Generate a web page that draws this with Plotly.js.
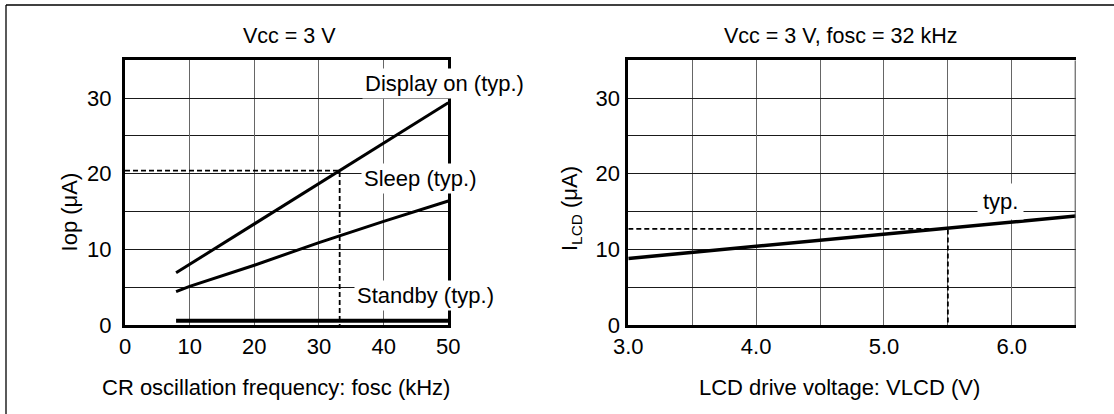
<!DOCTYPE html>
<html>
<head>
<meta charset="utf-8">
<script src="https://cdn.plot.ly/plotly-3.0.1.min.js"></script>
<style>html,body{margin:0;padding:0;background:#fff;}#chart{width:1114px;height:414px;}</style>
</head>
<body>
<div id="chart"></div>
<script>
// ---- Data ----
// Left chart: Iop vs CR oscillation frequency (Vcc = 3 V)
const displayOnX = [7.9, 20, 33.2, 50];
const displayOnY = [6.9, 13.4, 20.4, 29.4];
const sleepX = [7.9, 10, 20, 30, 40, 50];
const sleepY = [4.4, 5.1, 7.9, 10.9, 13.7, 16.4];
const standbyX = [7.9, 50];
const standbyY = [0.55, 0.55];
const guideLeftX = [0, 33.2, 33.2];
const guideLeftY = [20.4, 20.4, 0];

// Right chart: ILCD vs LCD drive voltage (Vcc = 3 V, fosc = 32 kHz)
const typX = [3.0, 4.0, 5.0, 5.5, 6.0, 6.5];
const typY = [8.8, 10.4, 12.0, 12.7, 13.6, 14.4];
const guideRightX = [3.0, 5.5, 5.5];
const guideRightY = [12.7, 12.7, 0];

// Ticks and grid positions
const leftXTicks = [0, 10, 20, 30, 40, 50];
const leftXTickText = ['0', '10', '20', '30', '40', '50'];
const yTickVals = [0, 10, 20, 30];
const yTickText = ['0', '10', '20', '30'];
const yMinorGrid = [5, 15, 25];
const rightXTicks = [3.0, 4.0, 5.0, 6.0];
const rightXTickText = ['3.0', '4.0', '5.0', '6.0'];
const rightXMinorGrid = [3.5, 4.5, 5.5];

// Texts
const leftTitle = 'Vcc = 3 V';
const rightTitle = 'Vcc = 3 V, fosc = 32 kHz';
const leftXTitle = 'CR oscillation frequency: fosc (kHz)';
const rightXTitle = 'LCD drive voltage: VLCD (V)';
const leftYTitle = 'Iop (μA)';
const rightYTitle = 'I<sub>LCD</sub> (μA)';
const labelDisplay = 'Display on (typ.)';
const labelSleep = 'Sleep (typ.)';
const labelStandby = 'Standby (typ.)';
const labelTyp = 'typ.';

// ---- Layout helpers ----
const W = 1114, H = 414;
const px = v => v / W;
const py = v => 1 - v / H;
const FONT = 'Liberation Sans, Arial, Helvetica, sans-serif';

const traces = [
  {x: displayOnX, y: displayOnY, xaxis: 'x', yaxis: 'y', mode: 'lines', line: {color: '#000', width: 3}},
  {x: sleepX, y: sleepY, xaxis: 'x', yaxis: 'y', mode: 'lines', line: {color: '#000', width: 3}},
  {x: standbyX, y: standbyY, xaxis: 'x', yaxis: 'y', mode: 'lines', line: {color: '#000', width: 4}},
  {x: guideLeftX, y: guideLeftY, xaxis: 'x', yaxis: 'y', mode: 'lines', line: {color: '#000', width: 1.8, dash: '5px,3px'}},
  {x: typX, y: typY, xaxis: 'x2', yaxis: 'y2', mode: 'lines', line: {color: '#000', width: 3.5}},
  {x: guideRightX, y: guideRightY, xaxis: 'x2', yaxis: 'y2', mode: 'lines', line: {color: '#000', width: 1.8, dash: '5px,3px'}}
];

const yDomain = [(H - 325) / H, (H - 60.3) / H];
const axisCommon = {
  showline: true, linecolor: '#000', linewidth: 3, zeroline: false,
  ticks: '', tickfont: {family: FONT, size: 22, color: '#000'}, fixedrange: true
};

const layout = {
  width: W, height: H,
  margin: {l: 0, r: 0, t: 0, b: 0},
  paper_bgcolor: '#fff', plot_bgcolor: '#fff',
  showlegend: false,
  font: {family: FONT, color: '#000'},
  xaxis: Object.assign({}, axisCommon, {
    domain: [px(125), px(448.3)], range: [0, 50], anchor: 'y', mirror: true,
    tickmode: 'array', tickvals: leftXTicks, ticktext: leftXTickText,
    showgrid: true, gridcolor: '#666', gridwidth: 1
  }),
  yaxis: Object.assign({}, axisCommon, {
    domain: yDomain, range: [0, 35], anchor: 'x', mirror: true,
    tickmode: 'array', tickvals: yTickVals, ticktext: yTickText,
    showgrid: true, gridcolor: '#1a1a1a', gridwidth: 1, ticklabelstandoff: 6,
    minor: {tickmode: 'array', tickvals: yMinorGrid, showgrid: true, gridcolor: '#1a1a1a', gridwidth: 1, ticks: ''}
  }),
  xaxis2: Object.assign({}, axisCommon, {
    domain: [px(628.3), px(1075.7)], range: [3.0, 6.5], anchor: 'y2', mirror: true,
    tickmode: 'array', tickvals: rightXTicks, ticktext: rightXTickText,
    showgrid: true, gridcolor: '#666', gridwidth: 1,
    minor: {tickmode: 'array', tickvals: rightXMinorGrid, showgrid: true, gridcolor: '#666', gridwidth: 1, ticks: ''}
  }),
  yaxis2: Object.assign({}, axisCommon, {
    domain: yDomain, range: [0, 35], anchor: 'x2', mirror: false,
    tickmode: 'array', tickvals: yTickVals, ticktext: yTickText,
    showgrid: true, gridcolor: '#1a1a1a', gridwidth: 1, ticklabelstandoff: 1,
    minor: {tickmode: 'array', tickvals: yMinorGrid, showgrid: true, gridcolor: '#1a1a1a', gridwidth: 1, ticks: ''}
  }),
  shapes: [
    {type: 'line', xref: 'paper', yref: 'paper', x0: px(6), x1: px(1114), y0: py(5), y1: py(5), line: {color: '#000', width: 1.3}},
    {type: 'line', xref: 'paper', yref: 'paper', x0: px(6), x1: px(6), y0: py(5), y1: py(414), line: {color: '#000', width: 1.3}},
    {type: 'line', xref: 'x2', yref: 'y2', x0: 6.5, x1: 6.5, y0: 0, y1: 35, line: {color: '#444', width: 2}}
  ],
  annotations: [
    {text: leftTitle, xref: 'paper', yref: 'paper', x: px(289.2), y: py(36), xanchor: 'center', yanchor: 'middle', showarrow: false, font: {family: FONT, size: 21.5}},
    {text: rightTitle, xref: 'paper', yref: 'paper', x: px(840.4), y: py(36), xanchor: 'center', yanchor: 'middle', showarrow: false, font: {family: FONT, size: 21.5}},
    {text: leftXTitle, xref: 'paper', yref: 'paper', x: px(275.7), y: py(387), xanchor: 'center', yanchor: 'middle', showarrow: false, font: {family: FONT, size: 22}},
    {text: rightXTitle, xref: 'paper', yref: 'paper', x: px(839.9), y: py(387), xanchor: 'center', yanchor: 'middle', showarrow: false, font: {family: FONT, size: 22}},
    {text: leftYTitle, xref: 'paper', yref: 'paper', x: px(69.7), y: py(211.7), xanchor: 'center', yanchor: 'middle', textangle: -90, showarrow: false, font: {family: FONT, size: 22}},
    {text: rightYTitle, xref: 'paper', yref: 'paper', x: px(571), y: py(209), xanchor: 'center', yanchor: 'middle', textangle: -90, showarrow: false, font: {family: FONT, size: 22}},
    {text: labelDisplay, xref: 'x', yref: 'y', x: 36.6, y: 31.9, xanchor: 'left', yanchor: 'middle', showarrow: false, bgcolor: '#fff', borderpad: 2, font: {family: FONT, size: 22}},
    {text: labelSleep, xref: 'x', yref: 'y', x: 36.5, y: 19.4, xanchor: 'left', yanchor: 'middle', showarrow: false, bgcolor: '#fff', borderpad: 2, font: {family: FONT, size: 22}},
    {text: labelStandby, xref: 'x', yref: 'y', x: 35.45, y: 3.9, xanchor: 'left', yanchor: 'middle', showarrow: false, bgcolor: '#fff', borderpad: 2, font: {family: FONT, size: 22}},
    {text: labelTyp, xref: 'x2', yref: 'y2', x: 5.91, y: 16.3, xanchor: 'center', yanchor: 'middle', showarrow: false, bgcolor: '#fff', borderpad: 5, font: {family: FONT, size: 22}}
  ]
};

Plotly.newPlot('chart', traces, layout, {staticPlot: true, displayModeBar: false});
</script>
</body>
</html>
